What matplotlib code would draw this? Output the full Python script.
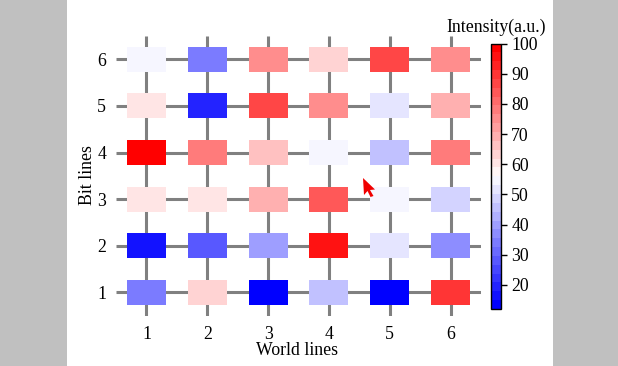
import matplotlib
matplotlib.use('Agg')
import matplotlib.pyplot as plt
from matplotlib.colors import Normalize
from matplotlib.patches import Polygon, Rectangle

plt.rcParams['font.family'] = ['Liberation Serif', 'DejaVu Serif']

world_lines = [1, 2, 3, 4, 5, 6]
bit_lines = [1, 2, 3, 4, 5, 6]

# intensity per bit line, left to right
bit1 = [34, 63.3, 12, 45.7, 12, 89.7]
bit2 = [16.4, 28.1, 39.9, 95.6, 51.6, 36.9]
bit3 = [60.4, 60.4, 69.2, 83.9, 54.5, 48.7]
bit4 = [100, 78, 66.3, 54.5, 45.7, 78]
bit5 = [60.4, 19.3, 87, 75, 51.6, 69.2]
bit6 = [54.5, 34, 75, 63.3, 87, 75]
intensity = [bit1, bit2, bit3, bit4, bit5, bit6]

colorbar_ticks = [20, 30, 40, 50, 60, 70, 80, 90, 100]

W, H = 618, 366


def px_axes(fig, left, top, right, bottom):
    return fig.add_axes([left / W, 1 - bottom / H, (right - left) / W, (bottom - top) / H])


fig = plt.figure(figsize=(W / 100, H / 100), dpi=100, facecolor='#c0c0c0')
fig.patches.append(Rectangle((67 / W, 0), 486 / W, 1, transform=fig.transFigure,
                             facecolor='white', edgecolor='none', figure=fig, zorder=-1))

ax = px_axes(fig, 116, 36, 481, 315.6)
ax.set_xlim(0.5, 6.5)
ax.set_ylim(0.5, 6.5)
ax.patch.set_visible(False)
for s in ax.spines.values():
    s.set_visible(False)

cmap = plt.get_cmap('bwr', 30)
norm = Normalize(12, 100)

for x in world_lines:
    ax.plot([x, x], [0.5, 6.5], color='#808080', lw=2.2, solid_capstyle='butt', zorder=1)
for y in bit_lines:
    ax.plot([0.5, 6.5], [y, y], color='#808080', lw=2.2, solid_capstyle='butt', zorder=1)

cw, ch = 0.64, 0.536
for j, y in enumerate(bit_lines):
    for i, x in enumerate(world_lines):
        ax.add_patch(Rectangle((x - cw / 2, y - ch / 2), cw, ch, facecolor=cmap(norm(intensity[j][i])),
                               edgecolor='none', zorder=2))

ax.set_xticks(world_lines)
ax.set_yticks(bit_lines)
ax.tick_params(length=0, labelsize=12.8)
ax.tick_params(axis='x', pad=7.5)
ax.tick_params(axis='y', pad=7)
ax.set_xlabel('World lines', fontsize=12.8, labelpad=0)
ax.set_ylabel('Bit lines', fontsize=12.8)
ax.xaxis.set_label_coords((297 - 116) / 365, -(350.5 - 315.6) / 279.6, transform=ax.transAxes)
ax.xaxis.label.set_va('center')
ax.yaxis.set_label_coords((88 - 116) / 365, (315.6 - 175) / 279.6, transform=ax.transAxes)
ax.yaxis.label.set_va('center')

cax = px_axes(fig, 490.5, 43.5, 501.5, 309)
sm = plt.cm.ScalarMappable(norm=norm, cmap=cmap)
cb = fig.colorbar(sm, cax=cax)
cb.set_ticks(colorbar_ticks)
cb.ax.tick_params(length=4, width=1, labelsize=12.8, pad=3, direction='out')
cb.outline.set_linewidth(1)
cb.outline.set_edgecolor('black')
cax.set_title('Intensity(a.u.)', fontsize=12.8, pad=8)

# red mouse pointer sitting on the screenshot
cursor = [(363, 178), (375, 189.5), (370, 190), (373.5, 196), (370.5, 197), (367.5, 191), (364, 195)]
fig.patches.append(Polygon([(px / W, 1 - py / H) for px, py in cursor], closed=True,
                           transform=fig.transFigure, facecolor='#f00000', edgecolor='none',
                           figure=fig, zorder=5))

fig.savefig('out.png', dpi=100, facecolor=fig.get_facecolor())
